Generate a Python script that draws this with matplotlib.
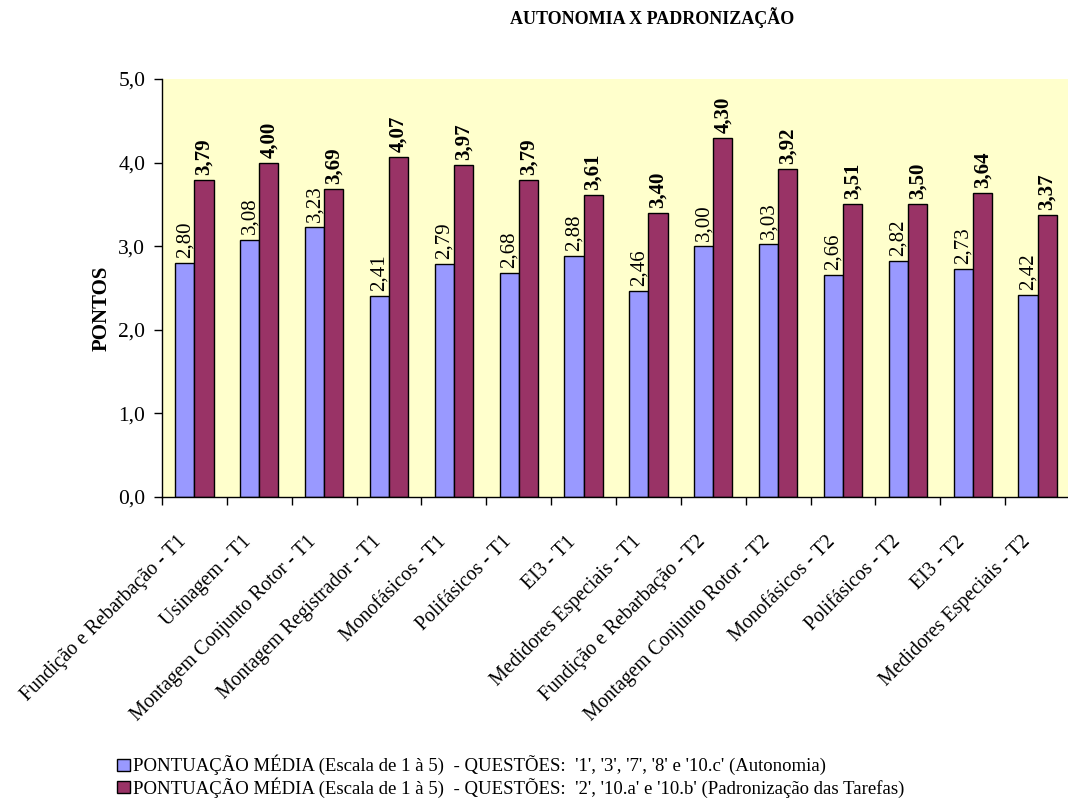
import matplotlib
matplotlib.use('Agg')
import matplotlib.pyplot as plt
import matplotlib.transforms as mtransforms
from matplotlib.patches import Patch
import numpy as np

plt.rcParams['font.family'] = ['Liberation Serif', 'DejaVu Serif']

# categories (setores / turnos)
setores = ['Fundição e Rebarbação - T1', 'Usinagem - T1', 'Montagem Conjunto Rotor - T1',
           'Montagem Registrador - T1', 'Monofásicos - T1', 'Polifásicos - T1', 'EI3 - T1',
           'Medidores Especiais - T1', 'Fundição e Rebarbação - T2', 'Montagem Conjunto Rotor - T2',
           'Monofásicos - T2', 'Polifásicos - T2', 'EI3 - T2', 'Medidores Especiais - T2']

autonomia = [2.80, 3.08, 3.23, 2.41, 2.79, 2.68, 2.88, 2.46, 3.00, 3.03, 2.66, 2.82, 2.73, 2.42]
padronizacao = [3.79, 4.00, 3.69, 4.07, 3.97, 3.79, 3.61, 3.40, 4.30, 3.92, 3.51, 3.50, 3.64, 3.37]

yticks = [0, 1, 2, 3, 4, 5]
yticklabels = ['0,0', '1,0', '2,0', '3,0', '4,0', '5,0']

leg_aut = "PONTUAÇÃO MÉDIA (Escala de 1 à 5)  - QUESTÕES:  '1', '3', '7', '8' e '10.c' (Autonomia)"
leg_pad = "PONTUAÇÃO MÉDIA (Escala de 1 à 5)  - QUESTÕES:  '2', '10.a' e '10.b' (Padronização das Tarefas)"

cor_aut = '#9999FF'
cor_pad = '#993366'

fig = plt.figure(figsize=(10.68, 7.99), dpi=100)
ax = fig.add_axes([162/1068, 1 - 497/799, (1070 - 162)/1068, 418/799])
ax.set_facecolor('#FFFFCC')

x = np.arange(len(setores))
w = 0.295
ax.bar(x - w/2, autonomia, w, color=cor_aut, edgecolor='black', linewidth=1)
ax.bar(x + w/2, padronizacao, w, color=cor_pad, edgecolor='black', linewidth=1)

# rotulos de valor
for xi, v in zip(x - w/2, autonomia):
    ax.text(xi, v + 0.06, ('%.2f' % v).replace('.', ','), rotation=90, ha='center', va='bottom',
            fontsize=15)
for xi, v in zip(x + w/2, padronizacao):
    ax.text(xi, v + 0.06, ('%.2f' % v).replace('.', ','), rotation=90, ha='center', va='bottom',
            fontsize=15, fontweight='bold')

ax.set_xlim(-0.5, len(setores) - 0.5)
ax.set_ylim(0, 5)
ax.set_yticks(yticks)
ax.set_yticklabels(yticklabels, fontsize=15.5)
ax.tick_params(axis='y', direction='out', length=6, width=1, pad=6)

ax.set_xticks(x)
ax.set_xticklabels(setores, rotation=45, ha='right', rotation_mode='anchor', fontsize=14.3)
ax.tick_params(axis='x', which='major', length=0, pad=14)
ax.set_xticks(np.arange(len(setores) + 1) - 0.5, minor=True)
ax.tick_params(axis='x', which='minor', direction='out', length=6, width=1)

# desloca os rotulos do eixo x para baixo/esquerda
desloc = mtransforms.ScaledTranslation(-0.17, -0.16, fig.dpi_scale_trans)
for lbl in ax.get_xticklabels():
    lbl.set_transform(lbl.get_transform() + desloc)

for s in ['top', 'right']:
    ax.spines[s].set_visible(False)
for s in ['left', 'bottom']:
    ax.spines[s].set_linewidth(1)

ax.set_ylabel('PONTOS', fontsize=15, fontweight='bold')
ax.yaxis.set_label_coords(-0.056, 0.452)

fig.text(652/1068, 1 - 18/799, 'AUTONOMIA X PADRONIZAÇÃO', ha='center', va='center',
         fontsize=13, fontweight='bold')

handles = [Patch(facecolor=cor_aut, edgecolor='black'), Patch(facecolor=cor_pad, edgecolor='black')]
fig.legend(handles, [leg_aut, leg_pad], loc='upper left', bbox_to_anchor=(100/1068, 1 - 738/799),
           frameon=False, fontsize=13.5, handlelength=0.7, handleheight=0.65, handletextpad=0.16,
           labelspacing=0.1)

fig.savefig('out.png', dpi=100)
